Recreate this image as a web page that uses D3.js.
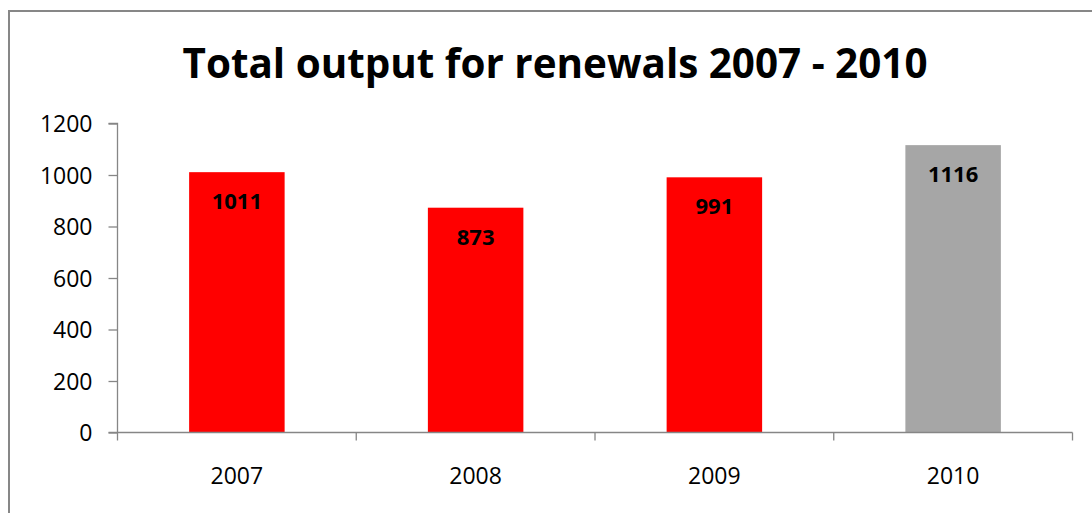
<!DOCTYPE html>
<html>
<head>
<meta charset="utf-8">
<script src="https://cdn.jsdelivr.net/npm/d3@7"></script>
<style>
  html, body { margin: 0; padding: 0; background: #fff; }
  svg { display: block; }
</style>
</head>
<body>
<svg id="chart" width="1092" height="513"></svg>
<script>
const categories = ["2007", "2008", "2009", "2010"];
const values = [1011, 873, 991, 1116];
const barColors = ["#FF0000", "#FF0000", "#FF0000", "#A6A6A6"];
const yTicks = [0, 200, 400, 600, 800, 1000, 1200];
const title = "Total output for renewals 2007 - 2010";

const svg = d3.select("#chart");
const font = "'Open Sans', 'Liberation Sans', Arial, sans-serif";

// outer border
svg.append("path")
  .attr("d", "M9,513 L9,11 L1092,11")
  .attr("fill", "none").attr("stroke", "#878787").attr("stroke-width", 2);

const plot = { left: 117.5, right: 1072.5, top: 123.5, bottom: 432.5 };

const x = d3.scaleBand().domain(categories).range([plot.left, plot.right]).paddingInner(0.6).paddingOuter(0.3);
const y = d3.scaleLinear().domain([0, 1200]).range([plot.bottom, plot.top]);

// title
svg.append("text")
  .attr("x", 555).attr("y", 78)
  .attr("text-anchor", "middle")
  .attr("font-family", font).attr("font-weight", "bold")
  .attr("font-size", 41)
  .attr("textLength", 745).attr("lengthAdjust", "spacingAndGlyphs")
  .attr("fill", "#000")
  .text(title);

// bar labels offset
svg.append("g").selectAll("rect").data(values).join("rect")
  .attr("x", (d, i) => x(categories[i]))
  .attr("width", x.bandwidth())
  .attr("y", d => y(d))
  .attr("height", d => y(0) - y(d))
  .attr("fill", (d, i) => barColors[i]);

svg.append("g").selectAll("text").data(values).join("text")
  .attr("x", (d, i) => x(categories[i]) + x.bandwidth() / 2)
  .attr("y", d => y(d) + 37)
  .attr("text-anchor", "middle")
  .attr("font-family", font).attr("font-weight", "bold")
  .attr("font-size", 22)
  .attr("fill", "#000")
  .text(d => d);

const axisColor = "#868686";

// y axis
const yAxis = svg.append("g")
  .attr("transform", `translate(${plot.left},0)`)
  .call(d3.axisLeft(y).tickValues(yTicks).tickSize(9).tickPadding(16).tickFormat(d3.format("d")));
yAxis.select(".domain").attr("stroke", axisColor).attr("stroke-width", 1.3).attr("d", `M-9,${plot.top}H0V${plot.bottom}`);
yAxis.selectAll(".tick line").attr("stroke", axisColor).attr("stroke-width", 1.3);
yAxis.selectAll(".tick text")
  .attr("font-family", font).attr("font-size", 23).attr("fill", "#000").attr("dy", "0.36em");

// x axis
const xBound = d3.scaleLinear().domain([0, categories.length]).range([plot.left, plot.right]);
const xg = svg.append("g").attr("transform", `translate(0,${plot.bottom})`);
xg.append("line")
  .attr("x1", plot.left - 9).attr("x2", plot.right)
  .attr("stroke", axisColor).attr("stroke-width", 1.3);
xg.selectAll("line.tk").data(d3.range(categories.length + 1)).join("line")
  .attr("class", "tk")
  .attr("x1", d => xBound(d)).attr("x2", d => xBound(d))
  .attr("y1", 0).attr("y2", 8)
  .attr("stroke", axisColor).attr("stroke-width", 1.3);
xg.selectAll("text").data(categories).join("text")
  .attr("x", d => x(d) + x.bandwidth() / 2)
  .attr("y", 51)
  .attr("text-anchor", "middle")
  .attr("font-family", font).attr("font-size", 23).attr("fill", "#000")
  .text(d => d);
</script>
</body>
</html>
